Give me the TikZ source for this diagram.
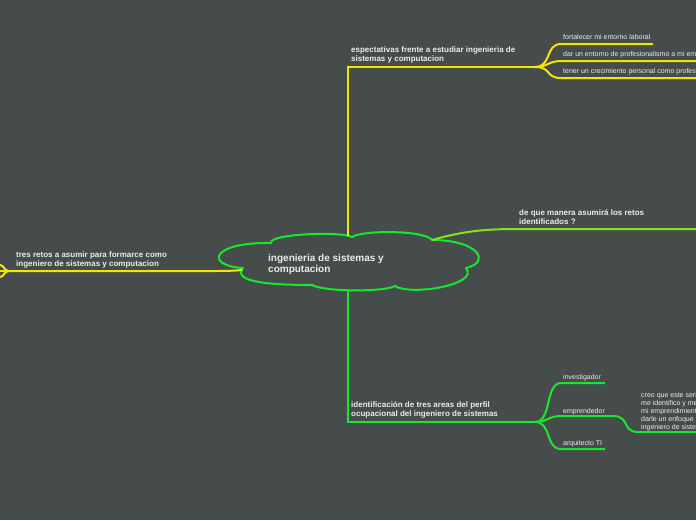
\documentclass[tikz,border=0pt]{standalone}
\usepackage{fontspec}
\setmainfont{Liberation Sans}
\definecolor{bg}{RGB}{70,76,76}
\definecolor{ylw}{RGB}{244,230,0}
\definecolor{grn}{RGB}{24,232,44}
\definecolor{lime}{RGB}{130,228,20}
\definecolor{txt}{RGB}{236,236,236}
\tikzset{
  yline/.style={draw=ylw, line width=2pt},
  gline/.style={draw=grn, line width=2pt},
  lline/.style={draw=lime, line width=2pt},
  lbl/.style={font=\bfseries\fontsize{8}{9}\selectfont, text=txt, anchor=base west, inner sep=0pt},
  leaf/.style={font=\fontsize{7}{8}\selectfont, text=txt, anchor=base west, inner sep=0pt},
  ctext/.style={font=\bfseries\fontsize{10}{11}\selectfont, text=txt, anchor=base west, inner sep=0pt},
  cloudline/.style={draw=grn, line width=2pt, line join=round}
}
\begin{document}
\begin{tikzpicture}[x=1pt,y=-1pt]
\useasboundingbox (0,0) rectangle (696,520);
\fill[bg] (0,0) rectangle (696,520);
\clip (0,0) rectangle (696,520);

% central cloud
\draw[cloudline] (271,243)
  .. controls (268,234) and (340,231) .. (352,237)
  .. controls (362,230) and (425,230) .. (432,240)
  .. controls (478,240) and (492,262) .. (466,268)
  .. controls (480,285) and (410,296) .. (395,286)
  .. controls (385,292) and (325,292) .. (312,285)
  .. controls (270,285) and (232,282) .. (243,268)
  .. controls (205,266) and (210,242) .. (271,243) -- cycle;
\node[ctext] (c1) at (268,261.5) {ingenieria de sistemas y};
\node[ctext] (c2) at (268,272.5) {computacion};

% anchor points on the cloud
\coordinate (ctop) at (348,236);
\coordinate (cbot) at (348,291);
\coordinate (cleft) at (242,270);
\coordinate (cright) at (432,240);

% ---------- top branch ----------
\coordinate (jt) at (535,67);
\draw[yline] (ctop) |- (jt);
\node[lbl] (t1a) at (351,52.5) {espectativas frente a estudiar ingenieria de};
\node[lbl] (t1b) at (351,61.5) {sistemas y computacion};
\coordinate (a1s) at (561,44); \coordinate (a1e) at (653,44);
\coordinate (a2s) at (561,61); \coordinate (a2e) at (696,61);
\coordinate (a3s) at (561,78); \coordinate (a3e) at (696,78);
\draw[yline] (jt) .. controls (552,67) and (545,44) .. (a1s) -- (a1e);
\draw[yline] (jt) .. controls (548,67) and (548,61) .. (a2s) -- (a2e);
\draw[yline] (jt) .. controls (552,67) and (545,78) .. (a3s) -- (a3e);
\node[leaf] (a1) at (563,39.5) {fortalecer mi entorno laboral};
\node[leaf] (a2) at (563,56.5) {dar un entorno de profesionalismo a mi em};
\node[leaf] (a3) at (563,73.8) {tener un crecimiento personal como profes};

% ---------- right branch ----------
\coordinate (rs) at (515,229);
\coordinate (re) at (696,229);
\draw[lline] (cright) .. controls (460,232) and (482,229) .. (rs) -- (re);
\node[lbl] (r1a) at (519,215) {de que manera asumirá los retos};
\node[lbl] (r1b) at (519,224) {identificados ?};

% ---------- left branch ----------
\coordinate (lj) at (9,271);
\draw[yline] (cleft) .. controls (232,271) and (222,271) .. (212,271) -- (lj);
\coordinate (lf1) at (0,265);
\coordinate (lf2) at (0,271);
\coordinate (lf3) at (0,277);
\draw[yline] (lj) .. controls (4,271) and (4,265) .. (lf1);
\draw[yline] (lj) -- (lf2);
\draw[yline] (lj) .. controls (4,271) and (4,277) .. (lf3);
\node[lbl] (l1a) at (16,257.5) {tres retos a asumir para formarce como};
\node[lbl] (l1b) at (16,266.5) {ingeniero de sistemas y computacion};

% ---------- bottom branch ----------
\coordinate (jb) at (535,422);
\draw[gline] (cbot) |- (jb);
\node[lbl] (b1a) at (351,407.5) {identificación de tres areas del perfil};
\node[lbl] (b1b) at (351,416.5) {ocupacional del ingeniero de sistemas};
\coordinate (b1s) at (561,383); \coordinate (b1e) at (605,383);
\coordinate (b2s) at (561,416); \coordinate (b2e) at (613,416);
\coordinate (b3s) at (561,449); \coordinate (b3e) at (605,449);
\coordinate (e1s) at (638,432); \coordinate (e1e) at (696,432);
\draw[gline] (jb) .. controls (552,422) and (545,383) .. (b1s) -- (b1e);
\draw[gline] (jb) .. controls (548,422) and (548,416) .. (b2s) -- (b2e)
  .. controls (630,416) and (622,432) .. (e1s) -- (e1e);
\draw[gline] (jb) .. controls (552,422) and (545,449) .. (b3s) -- (b3e);
\node[leaf] (b1) at (563,379.5) {investigador};
\node[leaf] (b2) at (563,413) {emprendedor};
\node[leaf] (b3) at (563,445.5) {arquitecto TI};
\node[leaf] (e1) at (641,397.5) {creo que este seri};
\node[leaf] (e2) at (641,405.7) {me identifico y me};
\node[leaf] (e3) at (641,413.7) {mi emprendimient};
\node[leaf] (e4) at (641,421.8) {darle un enfoque};
\node[leaf] (e5) at (641,429.8) {ingeniero de siste};
\end{tikzpicture}
\end{document}
